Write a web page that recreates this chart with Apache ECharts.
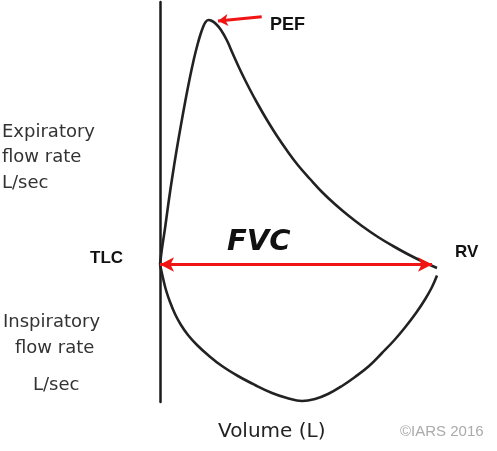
<!DOCTYPE html>
<html>
<head>
<meta charset="utf-8">
<script src="https://cdn.jsdelivr.net/npm/echarts@6/dist/echarts.min.js"></script>
<style>html,body{margin:0;padding:0;background:#fff}#c{width:497px;height:451px}</style>
</head>
<body>
<div id="c"></div>
<script>
// Volume (L) measured from TLC, flow (L/sec)
const expVolume = [0, 0.032, 0.094, 0.155, 0.222, 0.294, 0.372, 0.457, 0.538, 0.612, 0.675, 0.727, 0.778, 0.823, 0.872, 0.93, 1.011, 1.101, 1.209, 1.318, 1.462, 1.625, 1.769, 1.931, 2.112, 2.292, 2.491, 2.708, 2.924, 3.159, 3.394, 3.646, 3.935, 4.206, 4.458, 4.729, 5.0];
const expFlow   = [0, 0.58, 1.5, 2.5, 3.5, 4.5, 5.5, 6.54, 7.46, 8.22, 8.78, 9.18, 9.5, 9.7, 9.78, 9.75, 9.62, 9.38, 8.96, 8.41, 7.71, 6.99, 6.4, 5.78, 5.14, 4.56, 3.97, 3.42, 2.9, 2.41, 1.97, 1.54, 1.1, 0.74, 0.43, 0.13, -0.14];
const inspVolume = [0, 0.054, 0.108, 0.181, 0.271, 0.379, 0.505, 0.668, 0.866, 1.119, 1.408, 1.715, 2.022, 2.292, 2.563, 2.798, 3.032, 3.285, 3.52, 3.773, 4.007, 4.224, 4.422, 4.621, 4.783, 4.91, 5.0];
const inspFlow   = [0, -0.54, -1.02, -1.5, -1.98, -2.42, -2.82, -3.22, -3.62, -4.06, -4.46, -4.82, -5.14, -5.34, -5.46, -5.38, -5.18, -4.86, -4.5, -4.06, -3.54, -3.04, -2.52, -1.94, -1.4, -0.9, -0.44];
const fvcArrow = [[0.0, 0], [4.91, 0]];
const pefArrow = [[1.836, 9.91], [1.047, 9.74]];
const labels = {
  pef: 'PEF', fvc: 'FVC', tlc: 'TLC', rv: 'RV',
  exp: ['Expiratory', 'flow rate', 'L/sec'],
  insp: ['Inspiratory', 'flow rate', 'L/sec'],
  xName: 'Volume (L)', credit: '©IARS 2016'
};

const zip = (a, b) => a.map((v, i) => [v, b[i]]);
const chart = echarts.init(document.getElementById('c'));
const handFont = '"DejaVu Sans", sans-serif';
const boldFont = '"Liberation Sans", Arial, sans-serif';
chart.setOption({
  animation: false,
  grid: { left: 160, top: 2, width: 277, height: 400 },
  xAxis: { type: 'value', min: 0, max: 5, show: false },
  yAxis: {
    type: 'value', min: -5.5, max: 10.5,
    axisLine: { show: true, lineStyle: { color: '#1a1a1a', width: 2.5 } },
    axisTick: { show: false }, axisLabel: { show: false }, splitLine: { show: false }
  },
  series: [
    {
      type: 'line', data: zip(expVolume, expFlow), smooth: 0.4, symbol: 'none',
      lineStyle: { color: '#222', width: 2.6 }, z: 3
    },
    {
      type: 'line', data: zip(inspVolume, inspFlow), smooth: 0.4, symbol: 'none',
      lineStyle: { color: '#222', width: 2.6 }, z: 3
    },
    {
      type: 'line', data: [], symbol: 'none',
      markLine: {
        silent: true, animation: false,
        label: { show: false },
        data: [
          [{ coord: fvcArrow[0], symbol: 'arrow', symbolSize: [11, 14] },
           { coord: fvcArrow[1], symbol: 'arrow', symbolSize: [11, 14] }],
          [{ coord: pefArrow[0], symbol: 'none' },
           { coord: pefArrow[1], symbol: 'arrow', symbolSize: [9, 10] }]
        ],
        lineStyle: { color: '#f01414', width: 3, type: 'solid' }
      },
      z: 5
    }
  ],
  graphic: [
    { type: 'text', left: 270, top: 16, style: { text: labels.pef, font: 'bold 18px ' + boldFont, fill: '#111' } },
    { type: 'text', left: 227, top: 228, style: { text: labels.fvc, font: 'italic bold 29px ' + handFont, fill: '#111' } },
    { type: 'text', left: 90, top: 250, style: { text: labels.tlc, font: 'bold 17px ' + boldFont, fill: '#111' } },
    { type: 'text', left: 455, top: 244, style: { text: labels.rv, font: 'bold 17px ' + boldFont, fill: '#111' } },
    { type: 'text', left: 2, top: 123, style: { text: labels.exp[0], font: '18px ' + handFont, fill: '#333' } },
    { type: 'text', left: 2, top: 148, style: { text: labels.exp[1], font: '18px ' + handFont, fill: '#333' } },
    { type: 'text', left: 2, top: 174, style: { text: labels.exp[2], font: '18px ' + handFont, fill: '#333' } },
    { type: 'text', left: 3, top: 313, style: { text: labels.insp[0], font: '18px ' + handFont, fill: '#333' } },
    { type: 'text', left: 15, top: 339, style: { text: labels.insp[1], font: '18px ' + handFont, fill: '#333' } },
    { type: 'text', left: 33, top: 376, style: { text: labels.insp[2], font: '18px ' + handFont, fill: '#333' } },
    { type: 'text', left: 218, top: 422, style: { text: labels.xName, font: '20px ' + handFont, fill: '#222' } },
    { type: 'text', left: 400, top: 424, style: { text: labels.credit, font: '15px ' + boldFont, fill: '#aaa' } }
  ]
});
</script>
</body>
</html>
